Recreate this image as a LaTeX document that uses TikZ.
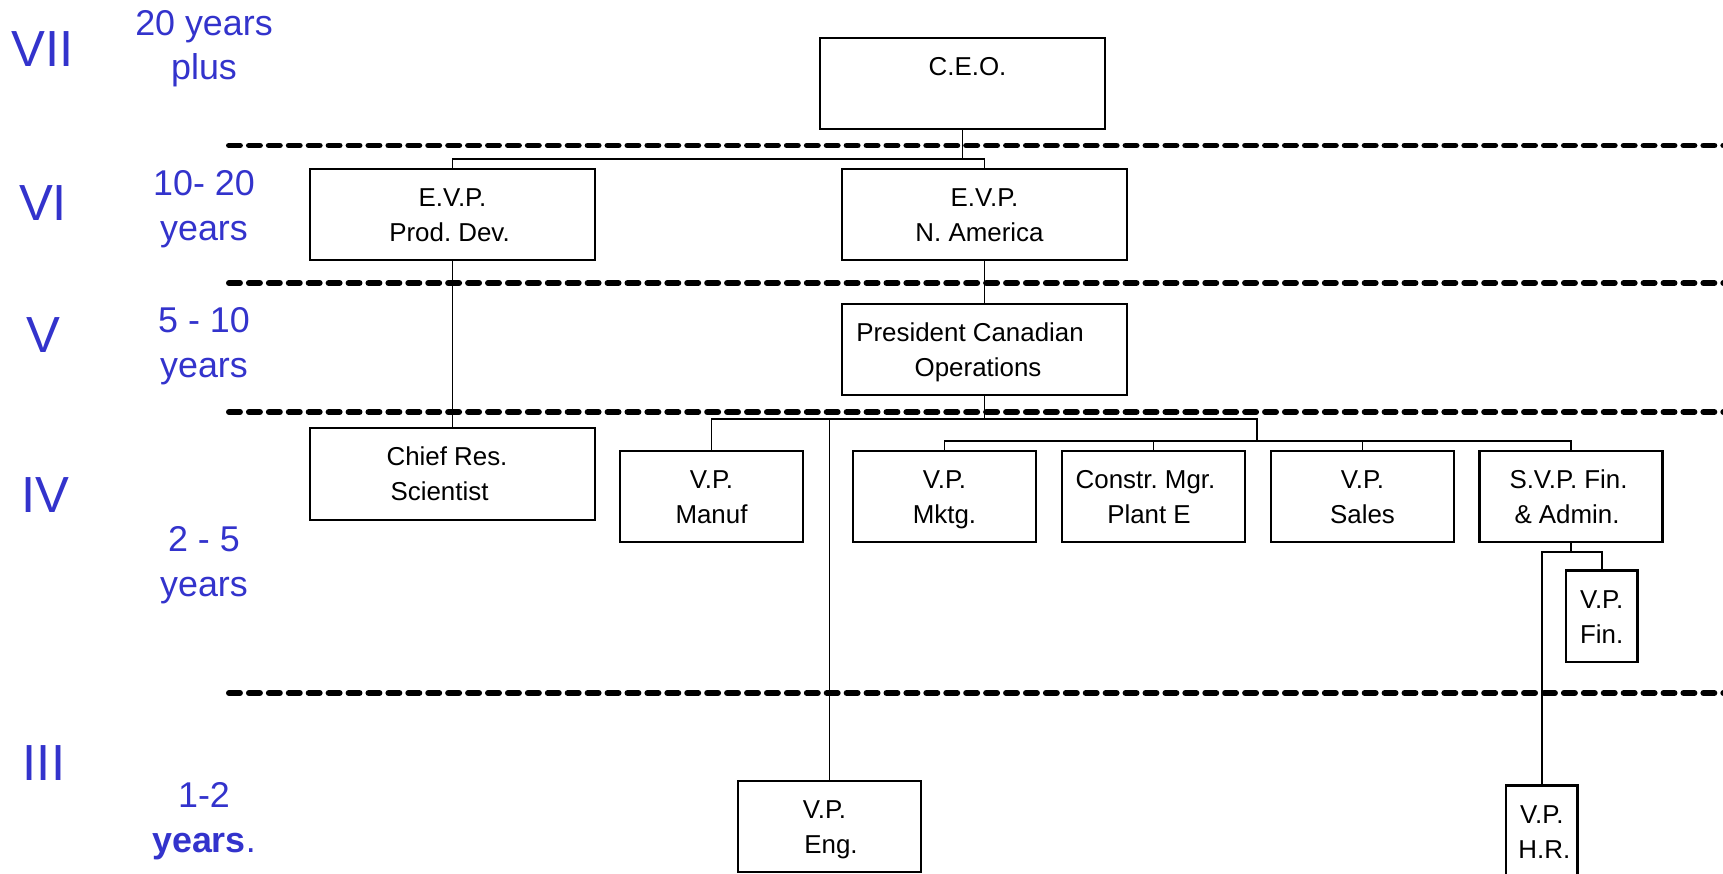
\documentclass[tikz,border=0pt]{standalone}
\usepackage{fontspec}
\setmainfont{Liberation Sans}
\frenchspacing
\definecolor{tenure}{RGB}{51,51,204}
\newlength\pxu
\setlength\pxu{0.5669pt}
\newcommand\boxfont{\fontsize{14.74pt}{19.84pt}\selectfont}
\newcommand\yrfont{\fontsize{20.4pt}{25pt}\selectfont}
\newcommand\romfont{\fontsize{28.9pt}{32pt}\selectfont}
% one line of box text: fixed cap-height strut, descenders ignored
\newcommand\bl[1]{\rule{0pt}{0.716em}\smash{#1}}
% shift a centred line sideways by #1 px
\newcommand\nudge[2]{\hspace*{#1\pxu}#2\hspace*{-#1\pxu}}
\begin{document}
\begin{tikzpicture}[x=0.02cm, y=-0.02cm]
\tikzset{
  box/.style={draw, line width=1.3pt, inner sep=0pt, align=center, font=\boxfont, minimum height=1.83cm},
  wide/.style={box, minimum width=5.7cm},
  mid/.style={box, minimum width=3.66cm},
  slim/.style={box, minimum width=1.43cm},
  link/.style={line width=1.1pt},
  band/.style={line width=3.4pt, line cap=round, dash pattern=on 6.24pt off 5.1pt},
  rank/.style={text=tenure, font=\romfont, anchor=base, inner sep=0pt},
  span/.style={text=tenure, font=\yrfont, anchor=base, inner sep=0pt},
}
\useasboundingbox (0,0) rectangle (1723,873);
\clip (0,0) rectangle (1723,873);

% tenure bands
\draw[band] (229,145.5) -- (1735,145.5);
\draw[band] (229,283) -- (1735,283);
\draw[band] (229,412) -- (1735,412);
\draw[band] (229,693) -- (1735,693);

% rank numerals
\node[rank] (r7) at (43,66.5) {VII};
\node[rank] (r6) at (43,220) {VI};
\node[rank] (r5) at (43,352) {V};
\node[rank] (r4) at (45,512.3) {IV};
\node[rank] (r3) at (44,780.7) {III};

% years in rank
\node[span] (s7a) at (204,35) {20 years};
\node[span] (s7b) at (204,79) {plus};
\node[span] (s6a) at (204,195) {10- 20};
\node[span] (s6b) at (204,240) {years};
\node[span] (s5a) at (204,332) {5 - 10};
\node[span] (s5b) at (204,377) {years};
\node[span] (s4a) at (204,551.7) {2 - 5};
\node[span] (s4b) at (204,596.7) {years};
\node[span] (s3a) at (204,807.7) {1-2};
\node[span] (s3b) at (204,852.7) {\textbf{years}.};

% positions
\node[wide, minimum height=1.826cm] (ceo) at (962.5,83.4) {\bl{\nudge{5}{C.E.O.}}\\\bl{}};
\node[wide] (evpd) at (452.5,214.5) {\bl{E.V.P.}\\\bl{\nudge{-3}{Prod. Dev.}}};
\node[wide] (evpa) at (984.5,214.5) {\bl{E.V.P.}\\\bl{\nudge{-5}{N. America}}};
\node[wide] (pres) at (984.5,349.5) {\bl{\nudge{-14.5}{President Canadian}}\\\bl{\nudge{-6.5}{Operations}}};
\node[wide] (chief) at (452.5,474) {\bl{\nudge{-5.5}{Chief Res.}}\\\bl{\nudge{-13}{Scientist}}};
\node[mid] (manuf) at (711.5,496.5) {\bl{V.P.}\\\bl{Manuf}};
\node[mid] (mktg) at (944.5,496.5) {\bl{V.P.}\\\bl{Mktg.}};
\node[mid] (constr) at (1153.5,496.5) {\bl{\nudge{-8}{Constr. Mgr.}}\\\bl{\nudge{-4.5}{Plant E}}};
\node[mid] (sales) at (1362.5,496.5) {\bl{V.P.}\\\bl{Sales}};
\node[mid] (svp) at (1571,496.5) {\bl{\nudge{-2.5}{S.V.P. Fin.}}\\\bl{\nudge{-4}{\& Admin.}}};
\node[slim] (fin) at (1601.7,616.3) {\bl{V.P.}\\\bl{Fin.}};
\node[mid] (eng) at (829.5,826.5) {\bl{\nudge{-5}{V.P.}}\\\bl{\nudge{1.5}{Eng.}}};
\node[slim] (hr) at (1541.8,831.3) {\bl{V.P.}\\\bl{\nudge{2.5}{H.R.}}};

% reporting lines
\coordinate (b1) at (962.5,159.3);
\coordinate (b2) at (984.5,419);
\coordinate (b3) at (1256.7,441);
\coordinate (b4) at (1571,551.7);
\draw[link] (ceo.south) -- (b1) -| (evpd.north);
\draw[link] (b1) -| (evpa.north);
\draw[link] (evpd.south) -- (chief.north);
\draw[link] (evpa.south) -- (pres.north);
\draw[link] (pres.south) -- (b2) -| (manuf.north);
\draw[link] (b2) -| (b3);
\draw[link] (eng.north |- b2) -- (eng.north);
\draw[link] (mktg.north) |- (b3) -| (svp.north);
\draw[link] (constr.north |- b3) -- (constr.north);
\draw[link] (sales.north |- b3) -- (sales.north);
\draw[link] (svp.south) -- (b4);
\draw[link] (hr.north) |- (b4) -| (fin.north);
\end{tikzpicture}
\end{document}
